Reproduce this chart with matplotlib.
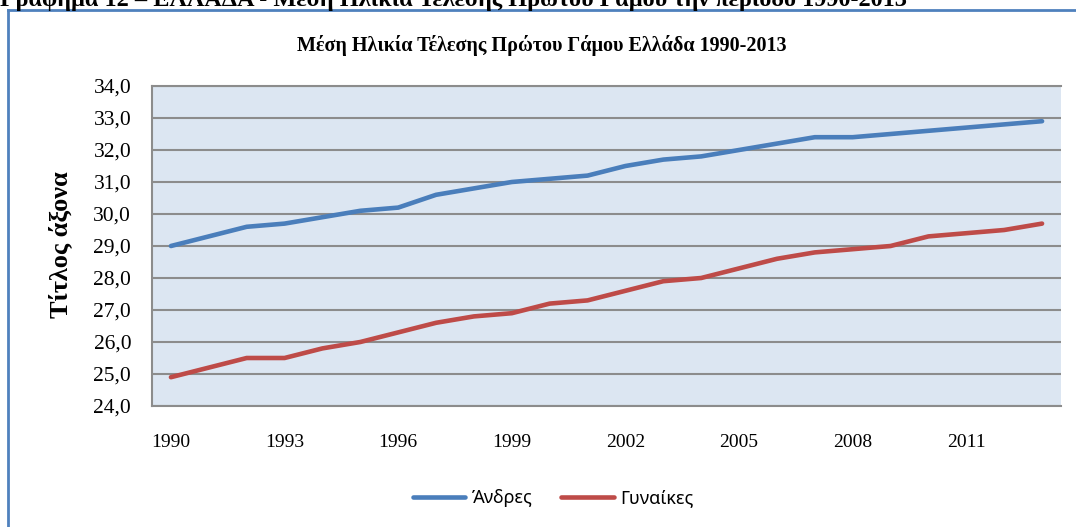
import matplotlib
matplotlib.use('Agg')
import matplotlib.pyplot as plt
from matplotlib.lines import Line2D

years = list(range(1990, 2014))
men = [29.0, 29.3, 29.6, 29.7, 29.9, 30.1, 30.2, 30.6, 30.8, 31.0, 31.1, 31.2,
       31.5, 31.7, 31.8, 32.0, 32.2, 32.4, 32.4, 32.5, 32.6, 32.7, 32.8, 32.9]
women = [24.9, 25.2, 25.5, 25.5, 25.8, 26.0, 26.3, 26.6, 26.8, 26.9, 27.2, 27.3,
         27.6, 27.9, 28.0, 28.3, 28.6, 28.8, 28.9, 29.0, 29.3, 29.4, 29.5, 29.7]
series_names = ['Άνδρες', 'Γυναίκες']
y_ticks = [24, 25, 26, 27, 28, 29, 30, 31, 32, 33, 34]

W, H = 1076, 527
fig = plt.figure(figsize=(W / 100, H / 100), dpi=100)
serif = 'Liberation Serif'

# partly cut-off caption of the document above the chart
fig.text(0.0, 1 - 6 / H, 'Γράφημα 12 – ΕΛΛΑΔΑ - Μέση Ηλικία Τέλεσης Πρώτου Γάμου την περίοδο 1990-2013',
         family=serif, weight='bold', fontsize=17.5, ha='left', va='baseline')

# blue chart border
fig.add_artist(Line2D([8 / W, 1], [1 - 10 / H, 1 - 10 / H], color='#4F81BD', lw=2,
                      transform=fig.transFigure))
fig.add_artist(Line2D([8 / W, 8 / W], [1 - 10 / H, 0], color='#4F81BD', lw=2,
                      transform=fig.transFigure))

ax = fig.add_axes([152 / W, 1 - 406 / H, 909 / W, 320 / H])
ax.set_facecolor('#DCE6F2')
x = list(range(len(years)))
ax.plot(x, men, color='#4A7EBB', lw=3.3, solid_capstyle='round', label=series_names[0])
ax.plot(x, women, color='#BE4B48', lw=3.3, solid_capstyle='round', label=series_names[1])

ax.set_xlim(-0.5, len(years) - 0.5)
ax.set_ylim(24, 34)
ax.set_yticks(y_ticks)
ax.set_yticklabels([f'{v:.1f}'.replace('.', ',') for v in y_ticks], family=serif, fontsize=15.5)
ax.set_xticks(x[::3])
ax.set_xticklabels([str(y) for y in years[::3]], family=serif, fontsize=14)
ax.tick_params(axis='y', length=0, pad=15)
ax.tick_params(axis='x', length=0, pad=20)
ax.grid(axis='y', color='#8C8C8C', lw=1.5)
ax.set_axisbelow(True)
for side in ['left', 'bottom', 'top']:
    ax.spines[side].set_color('#8C8C8C')
    ax.spines[side].set_linewidth(1.5)
ax.spines['right'].set_visible(False)

fig.text(542 / W, 1 - 45 / H, 'Μέση Ηλικία Τέλεσης Πρώτου Γάμου Ελλάδα 1990-2013',
         family=serif, weight='bold', fontsize=14.5, ha='center', va='center')
fig.text(60 / W, 1 - 245 / H, 'Τίτλος άξονα', family=serif, weight='bold', fontsize=19,
         rotation=90, ha='center', va='center')

fig.legend(loc='center', bbox_to_anchor=(553 / W, 1 - 498 / H), ncol=2, frameon=False,
           prop={'family': 'Noto Sans', 'size': 13}, handlelength=2.9, columnspacing=1.6,
           handletextpad=0.35)

fig.savefig('out.png', dpi=100)
